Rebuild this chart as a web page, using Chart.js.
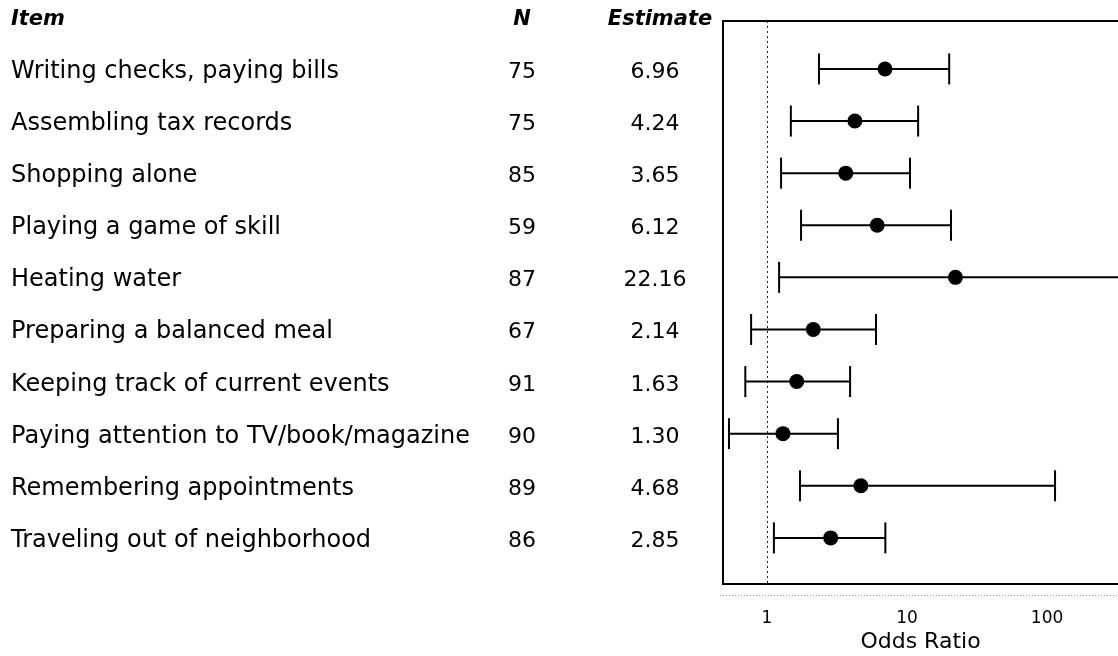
<!DOCTYPE html>
<html>
<head>
<meta charset="utf-8">
<script src="https://cdn.jsdelivr.net/npm/chart.js@4.4.1/dist/chart.umd.min.js"></script>
<style>
  html, body { margin: 0; padding: 0; background: #fff; overflow: hidden; }
  canvas { display: block; }
</style>
</head>
<body>
<canvas id="forest_chart" width="1118" height="656"></canvas>
<script>
var items = [
    'Writing checks, paying bills',
    'Assembling tax records',
    'Shopping alone',
    'Playing a game of skill',
    'Heating water',
    'Preparing a balanced meal',
    'Keeping track of current events',
    'Paying attention to TV/book/magazine',
    'Remembering appointments',
    'Traveling out of neighborhood'
];
var counts = [75, 75, 85, 59, 87, 67, 91, 90, 89, 86];
var estimates = [6.96, 4.24, 3.65, 6.12, 22.16, 2.14, 1.63, 1.30, 4.68, 2.85];
var lower = [2.35, 1.48, 1.26, 1.75, 1.22, 0.77, 0.70, 0.535, 1.72, 1.12];
var upper = [20.0, 12.0, 10.5, 20.6, 400, 6.0, 3.92, 3.21, 114, 7.0];
var tickValues = [1, 10, 100];
var tickLabels = ['1', '10', '100'];
var headers = ['Item', 'N', 'Estimate'];

var FONT = '"DejaVu Sans", sans-serif';

// one dataset per row for the CI whisker, then the point estimates on top
var datasets = [];
for (var i = 0; i < items.length; i++) {
    datasets.push({
        showLine: true,
        data: [{ x: lower[i], y: i + 1 }, { x: upper[i], y: i + 1 }],
        borderColor: '#000',
        borderWidth: 2,
        pointStyle: 'line',
        rotation: 90,
        pointRadius: 15.5,
        pointBorderWidth: 2,
        pointBorderColor: '#000',
        order: 2
    });
}
datasets.push({
    data: estimates.map(function(v, i) { return { x: v, y: i + 1 }; }),
    pointStyle: 'circle',
    pointRadius: 7.5,
    backgroundColor: '#000',
    borderColor: '#000',
    borderWidth: 0,
    order: 1
});

var forestText = {
    id: 'forestText',
    beforeDatasetsDraw: function(chart) {
        var ctx = chart.ctx;
        var area = chart.chartArea;
        var x1 = chart.scales.x.getPixelForValue(1);
        ctx.save();
        // reference line at OR = 1
        ctx.strokeStyle = '#222';
        ctx.lineWidth = 1;
        ctx.setLineDash([2, 3]);
        ctx.beginPath();
        ctx.moveTo(Math.round(x1) + 0.5, area.top);
        ctx.lineTo(Math.round(x1) + 0.5, area.bottom);
        ctx.stroke();
        // faint dotted axis line under the frame
        ctx.strokeStyle = '#999';
        ctx.setLineDash([1, 2]);
        ctx.beginPath();
        ctx.moveTo(area.left - 3, area.bottom + 11.5);
        ctx.lineTo(area.right, area.bottom + 11.5);
        ctx.stroke();
        // frame: left, top, bottom
        ctx.setLineDash([]);
        ctx.strokeStyle = '#000';
        ctx.lineWidth = 2;
        ctx.beginPath();
        ctx.moveTo(area.right, area.top);
        ctx.lineTo(area.left, area.top);
        ctx.lineTo(area.left, area.bottom);
        ctx.lineTo(area.right, area.bottom);
        ctx.stroke();
        ctx.restore();
    },
    afterDraw: function(chart) {
        var ctx = chart.ctx;
        var y = chart.scales.y;
        ctx.save();
        ctx.fillStyle = '#000';
        ctx.textBaseline = 'alphabetic';

        ctx.font = 'italic bold 21px ' + FONT;
        ctx.textAlign = 'left';
        ctx.fillText(headers[0], 11, 25);
        ctx.textAlign = 'center';
        ctx.fillText(headers[1], 522, 25);
        ctx.fillText(headers[2], 660, 25);

        for (var i = 0; i < items.length; i++) {
            var py = y.getPixelForValue(i + 1) + 9;
            ctx.font = '24px ' + FONT;
            ctx.textAlign = 'left';
            ctx.fillText(items[i], 11, py);
            ctx.font = '22px ' + FONT;
            ctx.textAlign = 'center';
            ctx.fillText(String(counts[i]), 522, py);
            ctx.fillText(estimates[i].toFixed(2), 655, py);
        }
        ctx.restore();
    }
};

var graph = new Chart(document.getElementById('forest_chart'), {
    type: 'scatter',
    data: { datasets: datasets },
    plugins: [forestText],
    options: {
        responsive: false,
        animation: false,
        events: [],
        layout: { autoPadding: false, padding: { left: 723, top: 21, right: 0, bottom: 0 } },
        plugins: {
            legend: { display: false },
            tooltip: { enabled: false }
        },
        scales: {
            x: {
                type: 'logarithmic',
                min: 0.485,
                max: 321,
                afterBuildTicks: function(scale) {
                    scale.ticks = tickValues.map(function(v) { return { value: v }; });
                },
                afterFit: function(scale) {
                    scale.height = 72;
                },
                grid: { display: false, drawTicks: false },
                border: { display: false },
                ticks: {
                    autoSkip: false,
                    maxRotation: 0,
                    padding: 24,
                    color: '#000',
                    font: { family: FONT, size: 17 },
                    callback: function(value, index) { return tickLabels[index]; }
                },
                title: {
                    display: true,
                    text: 'Odds Ratio',
                    color: '#000',
                    font: { family: FONT, size: 22 },
                    padding: { top: 0, bottom: 1 }
                }
            },
            y: {
                type: 'linear',
                display: false,
                reverse: true,
                min: 0.08,
                max: 10.885
            }
        }
    }
});
</script>
</body>
</html>
